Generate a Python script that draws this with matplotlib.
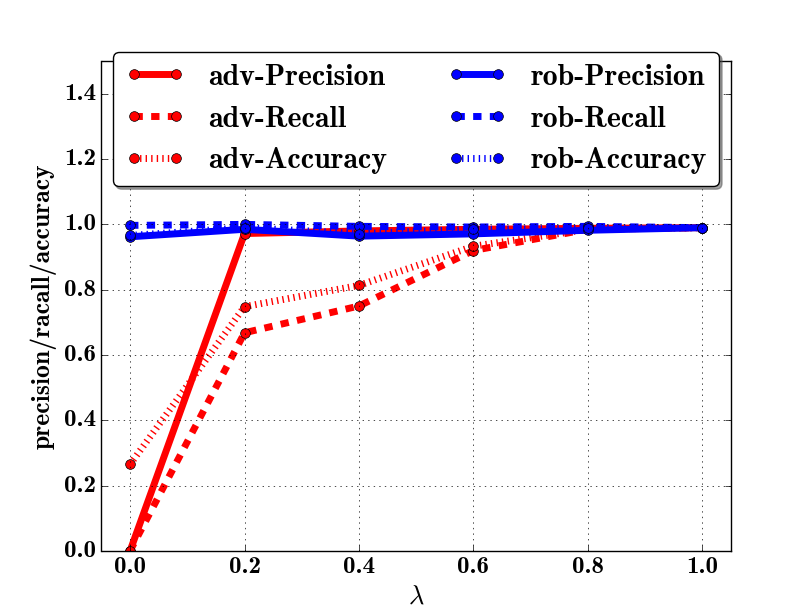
import matplotlib
matplotlib.use('Agg')
import matplotlib.pyplot as plt

plt.style.use('classic')
plt.rcParams['font.family'] = ['cmb10', 'DejaVu Serif']
plt.rcParams['mathtext.fontset'] = 'cm'
plt.rcParams['axes.unicode_minus'] = False

# data
lam = [0.0, 0.2, 0.4, 0.6, 0.8, 1.0]
adv_precision = [0.0, 0.972, 0.98, 0.985, 0.988, 0.99]
adv_recall = [0.0, 0.668, 0.75, 0.92, 0.985, 0.99]
adv_accuracy = [0.265, 0.748, 0.813, 0.933, 0.985, 0.99]
rob_precision = [0.962, 0.985, 0.964, 0.971, 0.982, 0.99]
rob_recall = [0.997, 1.0, 0.994, 0.992, 0.994, 0.99]
rob_accuracy = [0.966, 0.99, 0.972, 0.985, 0.988, 0.99]

fig = plt.figure(figsize=(8.12, 6.12), dpi=100)
ax = fig.add_subplot(111)

ax.plot(lam, adv_precision, 'r-o', lw=5, ms=7, label='adv-Precision')
ax.plot(lam, adv_recall, 'r--o', lw=5, ms=7, label='adv-Recall')
ax.plot(lam, adv_accuracy, 'r:o', lw=5, ms=7, label='adv-Accuracy')
ax.plot(lam, rob_precision, 'b-o', lw=5, ms=7, label='rob-Precision')
ax.plot(lam, rob_recall, 'b--o', lw=5, ms=7, label='rob-Recall')
ax.plot(lam, rob_accuracy, 'b:o', lw=5, ms=7, label='rob-Accuracy')

ax.set_xlim(-0.05, 1.05)
ax.set_ylim(0, 1.5)
ax.grid(True)
ax.tick_params(labelsize=18)
ax.set_xlabel(r'$\lambda$', fontsize=19)
ax.set_ylabel('precision/racall/accuracy', fontsize=18.5)
ax.legend(loc='upper center', bbox_to_anchor=(0.5, 1.05), ncol=2,
          fancybox=True, shadow=True, fontsize=21.5, numpoints=2)

fig.savefig('out.png', dpi=100)
